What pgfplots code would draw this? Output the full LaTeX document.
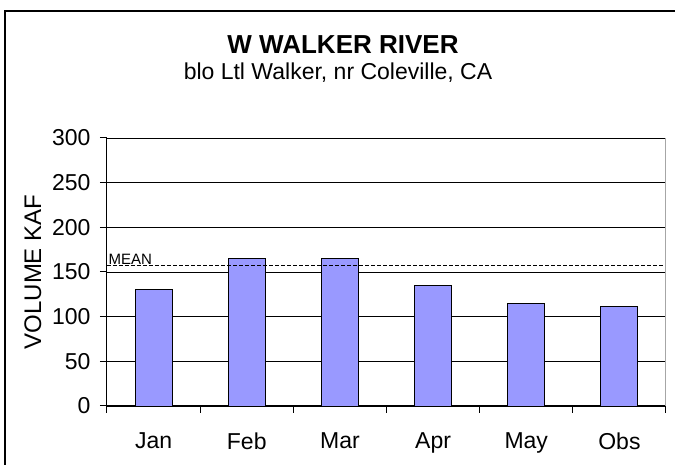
\documentclass[border=0pt]{standalone}
\usepackage{pgfplots}
\pgfplotsset{compat=1.18}
\usepackage{fontspec}
\setmainfont{Liberation Sans}
\definecolor{barblue}{RGB}{153,153,255}
\begin{document}
\begin{tikzpicture}[x=1pt,y=1pt]
\useasboundingbox (0,0) rectangle (675,465);
\draw[line width=2pt] (5,-2) -- (5,454) -- (677,454);
\node[font=\fontsize{26}{30}\selectfont\bfseries] at (343,420) {W WALKER RIVER};
\node[font=\fontsize{23}{27}\selectfont] at (338,392) {blo Ltl Walker, nr Coleville, CA};
\begin{axis}[
  at={(107pt,59pt)}, anchor=south west,
  scale only axis, width=559pt, height=268pt,
  xmin=-0.5, xmax=5.5, ymin=0, ymax=300,
  ytick={0,50,...,300},
  xtick={0,...,5},
  xticklabels={Jan,Feb,Mar,Apr,May,Obs},
  minor xtick={-0.5,0.5,...,5.5},
  major x tick style={draw=none},
  tick align=outside,
  major tick length=7pt, minor tick length=7pt,
  axis x line*=bottom, axis y line*=left,
  axis line style={black, line width=1pt, -},
  tick style={black, line width=1pt},
  ymajorgrids, grid style={black, line width=0.8pt},
  ticklabel style={font=\fontsize{23}{27}\selectfont},
  /pgf/number format/assume math mode=true,
  xticklabel style={yshift=-16pt},
  yticklabel style={xshift=-6pt},
  ylabel={VOLUME KAF},
  ylabel style={font=\fontsize{24}{28}\selectfont, at={(axis description cs:-0.1324,0.5)}, anchor=center},
  clip=false,
]
\addplot[ybar, bar width=37pt, fill=barblue, draw=black, line width=0.9pt]
  coordinates {(0,130) (1,165) (2,165) (3,135) (4,115) (5,111)};
\addplot[black, line width=1.2pt, dash pattern=on 4pt off 2pt]
  coordinates {(-0.5,157) (5.5,157)}
  node[pos=0, anchor=south west, inner sep=1pt, font=\fontsize{15}{18}\selectfont] {MEAN};
\draw[gray!70, line width=1pt] (rel axis cs:1,0) -- (rel axis cs:1,1);
\end{axis}
\end{tikzpicture}
\end{document}
